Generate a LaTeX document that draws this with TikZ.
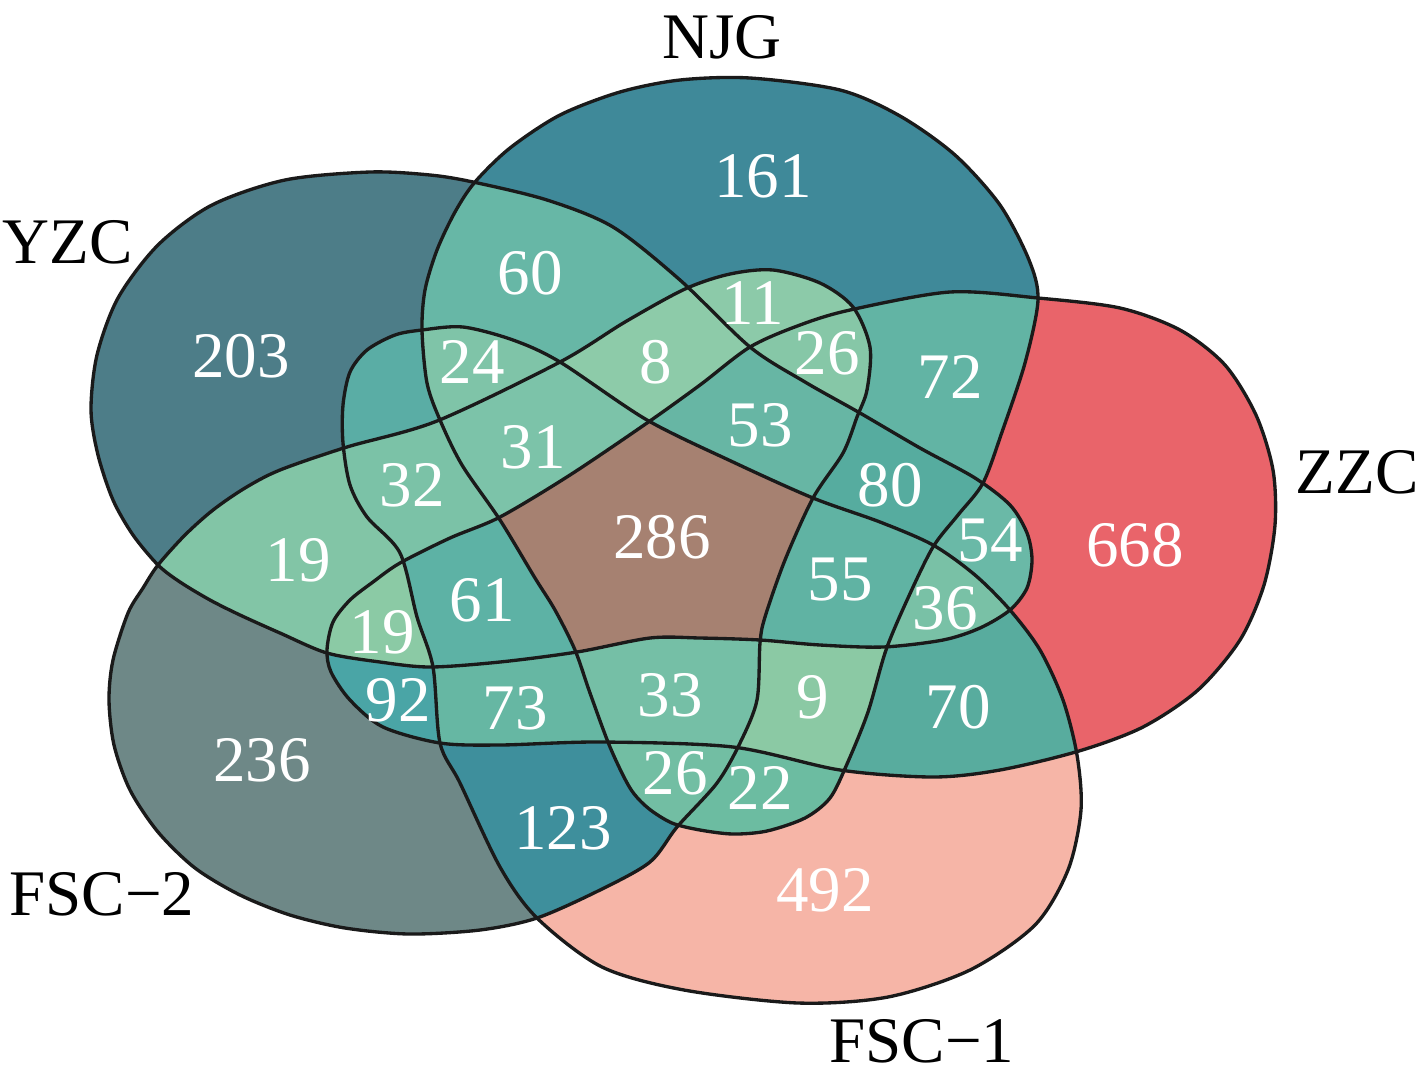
\documentclass[tikz,border=0pt]{standalone}
\usepackage{fontspec}
\setmainfont{Liberation Serif}
\definecolor{cN}{HTML}{3F8999}
\definecolor{cY}{HTML}{4D7D88}
\definecolor{cZ}{HTML}{E9646A}
\definecolor{cA}{HTML}{F6B5A7}
\definecolor{cB}{HTML}{6E8887}
\definecolor{cNY}{HTML}{67B7A6}
\definecolor{cNZ}{HTML}{62B4A4}
\definecolor{cNA}{HTML}{6CBCA1}
\definecolor{cNB}{HTML}{8CCAA9}
\definecolor{cYZ}{HTML}{6AB9A7}
\definecolor{cYA}{HTML}{5AADA5}
\definecolor{cYB}{HTML}{82C5A6}
\definecolor{cZA}{HTML}{58AC9E}
\definecolor{cZB}{HTML}{4AA5A6}
\definecolor{cAB}{HTML}{3E8F9C}
\definecolor{cNYZ}{HTML}{56AC9F}
\definecolor{cNYA}{HTML}{7FC4A8}
\definecolor{cNYB}{HTML}{8DCBA9}
\definecolor{cNZA}{HTML}{8BC9A4}
\definecolor{cNZB}{HTML}{86C7A7}
\definecolor{cNAB}{HTML}{72BEA3}
\definecolor{cYZA}{HTML}{79C1A6}
\definecolor{cYZB}{HTML}{8BCAA5}
\definecolor{cYAB}{HTML}{7BC2A7}
\definecolor{cZAB}{HTML}{66B7A3}
\definecolor{cNYZA}{HTML}{60B3A3}
\definecolor{cNYZB}{HTML}{67B6A4}
\definecolor{cNYAB}{HTML}{7CC3A9}
\definecolor{cNZAB}{HTML}{75BFA6}
\definecolor{cYZAB}{HTML}{5DB2A5}
\definecolor{cALL}{HTML}{A68171}
\definecolor{edge}{HTML}{1A1A1A}
% set outlines (pixel coordinates of the reference)
\newcommand\shN{plot[smooth cycle] coordinates {(750,78) (840,90) (900,116) (955,155) (1000,205) (1029,260) (1038,300) (1025,363) (1002,432) (983,483) (958,515) (933,547) (908,598) (886,650) (868,712) (847,764) (830,798) (805,818) (767,831) (733,834) (700,830) (672,823) (648,808) (630,788) (610,747) (590,693) (575,650) (555,610) (535,578) (500,520) (462,465) (440,420) (427,383) (422,330) (425,290) (437,250) (455,212) (475,182) (510,148) (560,115) (620,92) (680,80)}}
\newcommand\shY{plot[smooth cycle] coordinates {(91,410) (97,355) (118,298) (158,245) (212,205) (285,180) (370,172) (430,175) (473,182) (547,200) (613,227) (680,280) (750,347) (805,382) (860,413) (920,448) (975,478) (1010,505) (1027,533) (1032,560) (1027,588) (1010,610) (980,628) (943,640) (883,647) (820,645) (760,640) (700,638) (650,638) (577,652) (500,662) (430,667) (380,662) (327,653) (280,633) (240,615) (210,600) (180,582) (158,565) (133,535) (113,500) (98,455)}}
\newcommand\shZ{plot[smooth cycle] coordinates {(1038,298) (1120,308) (1180,330) (1225,365) (1256,415) (1273,470) (1275,525) (1264,585) (1240,640) (1198,690) (1143,727) (1079,751) (1000,770) (933,777) (840,770) (733,747) (600,742) (500,745) (440,743) (383,727) (350,700) (331,672) (327,650) (333,622) (350,600) (373,582) (400,563) (450,538) (500,517) (570,475) (647,423) (700,385) (750,347) (800,325) (850,310) (950,292)}}
\newcommand\shA{plot[smooth cycle] coordinates {(343,405) (350,372) (367,350) (395,335) (422,330) (463,327) (513,340) (560,362) (647,420) (733,462) (813,498) (880,522) (933,545) (975,575) (1010,610) (1040,650) (1063,700) (1077,755) (1081,810) (1068,870) (1035,925) (970,970) (888,997) (798,1003) (684,990) (602,967) (537,918) (500,867) (460,783) (440,743) (433,667) (417,617) (400,553) (367,517) (350,485) (343,443)}}
\newcommand\shB{plot[smooth cycle] coordinates {(158,565) (185,535) (213,510) (245,488) (280,470) (347,447) (437,421) (560,362) (625,322) (685,289) (730,274) (773,270) (820,283) (853,307) (870,347) (867,390) (857,417) (843,453) (813,498) (785,560) (765,617) (760,643) (757,700) (740,743) (717,783) (677,827) (650,862) (600,890) (537,918) (480,930) (409,934) (345,928) (290,915) (240,895) (195,868) (158,832) (130,790) (114,745) (109,700) (113,660) (128,613) (143,588)}}
\begin{document}
\begin{tikzpicture}[x=0.02cm,y=-0.02cm,
  num/.style={text=white,font=\fontsize{37}{40}\selectfont,inner sep=0pt},
  lab/.style={text=black,font=\fontsize{37}{40}\selectfont,inner sep=0pt},
  outline/.style={draw=edge,line width=1.9pt}]
\useasboundingbox (0,0) rectangle (1423,1086);
\fill[white] (0,0) rectangle (1423,1086);
% single sets
\fill[cN] \shN; \fill[cY] \shY; \fill[cZ] \shZ; \fill[cA] \shA; \fill[cB] \shB;
% pairs
\begin{scope}\clip \shN; \fill[cNY] \shY;\end{scope}
\begin{scope}\clip \shN; \fill[cNZ] \shZ;\end{scope}
\begin{scope}\clip \shN; \fill[cNA] \shA;\end{scope}
\begin{scope}\clip \shN; \fill[cNB] \shB;\end{scope}
\begin{scope}\clip \shY; \fill[cYZ] \shZ;\end{scope}
\begin{scope}\clip \shY; \fill[cYA] \shA;\end{scope}
\begin{scope}\clip \shY; \fill[cYB] \shB;\end{scope}
\begin{scope}\clip \shZ; \fill[cZA] \shA;\end{scope}
\begin{scope}\clip \shZ; \fill[cZB] \shB;\end{scope}
\begin{scope}\clip \shA; \fill[cAB] \shB;\end{scope}
% triples
\begin{scope}\clip \shN; \clip \shY; \fill[cNYZ] \shZ;\end{scope}
\begin{scope}\clip \shN; \clip \shY; \fill[cNYA] \shA;\end{scope}
\begin{scope}\clip \shN; \clip \shY; \fill[cNYB] \shB;\end{scope}
\begin{scope}\clip \shN; \clip \shZ; \fill[cNZA] \shA;\end{scope}
\begin{scope}\clip \shN; \clip \shZ; \fill[cNZB] \shB;\end{scope}
\begin{scope}\clip \shN; \clip \shA; \fill[cNAB] \shB;\end{scope}
\begin{scope}\clip \shY; \clip \shZ; \fill[cYZA] \shA;\end{scope}
\begin{scope}\clip \shY; \clip \shZ; \fill[cYZB] \shB;\end{scope}
\begin{scope}\clip \shY; \clip \shA; \fill[cYAB] \shB;\end{scope}
\begin{scope}\clip \shZ; \clip \shA; \fill[cZAB] \shB;\end{scope}
% quadruples
\begin{scope}\clip \shN; \clip \shY; \clip \shZ; \fill[cNYZA] \shA;\end{scope}
\begin{scope}\clip \shN; \clip \shY; \clip \shZ; \fill[cNYZB] \shB;\end{scope}
\begin{scope}\clip \shN; \clip \shY; \clip \shA; \fill[cNYAB] \shB;\end{scope}
\begin{scope}\clip \shN; \clip \shZ; \clip \shA; \fill[cNZAB] \shB;\end{scope}
\begin{scope}\clip \shY; \clip \shZ; \clip \shA; \fill[cYZAB] \shB;\end{scope}
% all five
\begin{scope}\clip \shN; \clip \shY; \clip \shZ; \clip \shA; \fill[cALL] \shB;\end{scope}
% outlines
\draw[outline] \shN; \draw[outline] \shY; \draw[outline] \shZ; \draw[outline] \shA; \draw[outline] \shB;
% set labels
\node[lab] (lNJG) at (722,37) {NJG};
\node[lab] (lYZC) at (68,242) {YZC};
\node[lab] (lZZC) at (1357,472) {ZZC};
\node[lab] (lFSC2) at (102,894) {FSC−2};
\node[lab] (lFSC1) at (922,1041) {FSC−1};
% counts
\node[num] (n161) at (763,176) {161};
\node[num] (n203) at (241,356) {203};
\node[num] (n668) at (1135,545) {668};
\node[num] (n492) at (825,890) {492};
\node[num] (n236) at (262,760) {236};
\node[num] (n60) at (530,273) {60};
\node[num] (n72) at (950,377) {72};
\node[num] (n70) at (958,707) {70};
\node[num] (n123) at (563,828) {123};
\node[num] (n19a) at (298,560) {19};
\node[num] (n11) at (753,303) {11};
\node[num] (n24) at (472,362) {24};
\node[num] (n8) at (656,362) {8};
\node[num] (n26a) at (827,353) {26};
\node[num] (n53) at (760,425) {53};
\node[num] (n31) at (533,447) {31};
\node[num] (n32) at (412,485) {32};
\node[num] (n80) at (890,485) {80};
\node[num] (n286) at (662,537) {286};
\node[num] (n54) at (990,540) {54};
\node[num] (n55) at (840,580) {55};
\node[num] (n61) at (482,600) {61};
\node[num] (n36) at (945,608) {36};
\node[num] (n19b) at (382,632) {19};
\node[num] (n92) at (398,700) {92};
\node[num] (n73) at (515,708) {73};
\node[num] (n33) at (670,695) {33};
\node[num] (n9) at (813,697) {9};
\node[num] (n26b) at (675,773) {26};
\node[num] (n22) at (760,788) {22};
\end{tikzpicture}
\end{document}
